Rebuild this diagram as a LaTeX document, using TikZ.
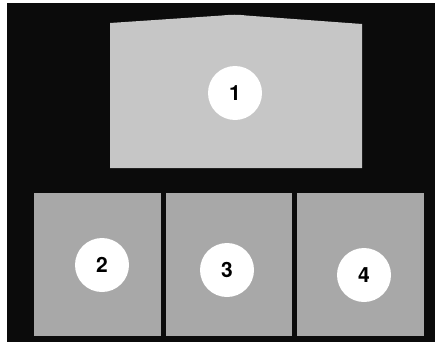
\documentclass[tikz,border=0pt]{standalone}
\usepackage{fontspec}
\setmainfont{TeX Gyre Heros}
\definecolor{bgblack}{HTML}{0B0B0B}
\definecolor{panellight}{HTML}{C6C6C6}
\definecolor{paneldark}{HTML}{A8A8A8}
\begin{document}
\begin{tikzpicture}[x=1pt,y=-1pt,
  numdisc/.style={circle,fill=white,draw=none,minimum size=54pt,inner sep=0pt,
    font=\fontsize{21}{21}\selectfont\bfseries,text=black}]
\useasboundingbox (0,0) rectangle (435,345);
\fill[white] (0,0) rectangle (435,345);
\fill[bgblack] (7,3) rectangle (435,342);
% panels
\fill[panellight] (110,23) -- (222,15.5) .. controls (232,14.5) and (238,14.5) .. (246,15.5) -- (362,24) -- (362,168) -- (110,168) -- cycle;
\fill[paneldark] (34,193) rectangle (161,336);
\fill[paneldark] (166,193) rectangle (292,336);
\fill[paneldark] (297,193) rectangle (424,336);
% number discs
\node[numdisc] (n1) at (235,93) {1};
\node[numdisc] (n2) at (102,265) {2};
\node[numdisc] (n3) at (227,270) {3};
\node[numdisc] (n4) at (364,275) {4};
\end{tikzpicture}
\end{document}
